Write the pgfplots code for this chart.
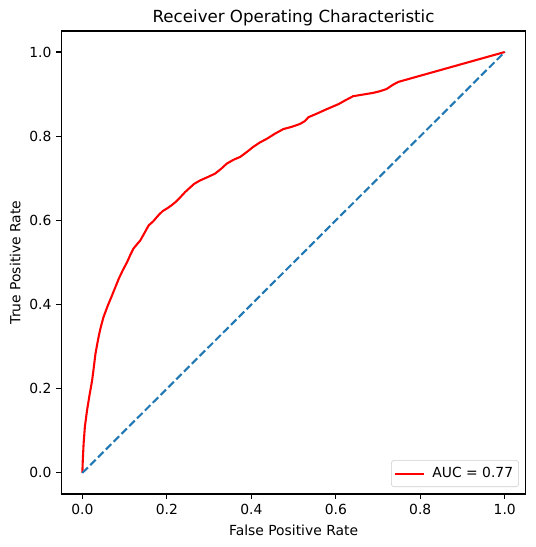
\documentclass[border=0pt]{standalone}
\usepackage{fontspec}
\setmainfont{DejaVu Sans}
\usepackage{pgfplots}
\pgfplotsset{compat=1.18}
\definecolor{tabblue}{HTML}{1F77B4}
\pgfplotstableread{
x y
0 0
0.001 0.03
0.003 0.07
0.006 0.11
0.011 0.148
0.017 0.185
0.023 0.219
0.027 0.25
0.031 0.283
0.035 0.305
0.039 0.326
0.044 0.348
0.050 0.370
0.060 0.397
0.070 0.421
0.078 0.441
0.086 0.461
0.096 0.482
0.106 0.501
0.114 0.519
0.121 0.533
0.130 0.544
0.137 0.552
0.147 0.570
0.157 0.588
0.168 0.598
0.180 0.612
0.190 0.622
0.200 0.628
0.210 0.635
0.220 0.643
0.232 0.655
0.243 0.667
0.255 0.678
0.265 0.687
0.279 0.695
0.297 0.703
0.314 0.711
0.328 0.722
0.342 0.735
0.358 0.744
0.374 0.751
0.390 0.763
0.405 0.775
0.420 0.785
0.437 0.794
0.456 0.806
0.476 0.817
0.495 0.822
0.515 0.829
0.527 0.836
0.535 0.845
0.556 0.854
0.578 0.864
0.592 0.870
0.606 0.876
0.624 0.886
0.641 0.895
0.665 0.899
0.689 0.903
0.705 0.907
0.720 0.912
0.735 0.922
0.748 0.929
1 1
}\roc
\begin{document}
\begin{tikzpicture}
\begin{axis}[
  scale only axis,
  width=334.6pt, height=333.4pt,
  xmin=-0.05, xmax=1.05, ymin=-0.05, ymax=1.05,
  axis line style={line width=0.8pt, black},
  tick pos=left,
  tick align=outside,
  major tick length=3.5pt,
  tick style={line width=0.8pt, black},
  xtick={0,0.2,0.4,0.6,0.8,1.0},
  ytick={0,0.2,0.4,0.6,0.8,1.0},
  xticklabels={0.0,0.2,0.4,0.6,0.8,1.0},
  yticklabels={0.0,0.2,0.4,0.6,0.8,1.0},
  tick label style={font=\fontsize{10}{12}\selectfont},
  /pgf/number format/assume math mode=true,
  title={Receiver Operating Characteristic},
  title style={font=\fontsize{12}{14}\selectfont, at={(axis description cs:0.5,1)}, anchor=base, yshift=0pt},
  xlabel={False Positive Rate},
  xlabel style={font=\fontsize{10}{12}\selectfont, at={(axis description cs:0.5,0)}, anchor=base, yshift=-30.2pt},
  ylabel={True Positive Rate},
  ylabel style={font=\fontsize{10}{12}\selectfont, at={(axis description cs:-0.099,0.5)}, anchor=center},
  legend style={at={(axis description cs:1,0)}, anchor=south east, xshift=-5pt, yshift=5pt,
    draw=black!20, rounded corners=2pt, fill=white, fill opacity=0.8, text opacity=1,
    font=\fontsize{10}{12}\selectfont, inner xsep=2pt, inner ysep=2pt,
    nodes={inner xsep=2pt, inner ysep=3pt}, column sep=3.4pt},
  legend cell align=left,
  legend image code/.code={\draw[#1] (0pt,0pt) -- (20.6pt,0pt);},
]
\coordinate (ll) at (rel axis cs:0,0);
\coordinate (ur) at (rel axis cs:1,1);
\addplot[red, line width=1.5pt, no marks] table[x=x,y=y] {\roc};
\addlegendentry{AUC = 0.77}
\addplot[tabblue, line width=1.5pt, dash pattern=on 5.55pt off 2.4pt, no marks, forget plot] coordinates {(0,0) (1,1)};
\end{axis}
\pgfresetboundingbox
\path ([shift={(-44.1pt,-38.2pt)}]ll) rectangle ([shift={(7.2pt,22.3pt)}]ur);
\end{tikzpicture}
\end{document}
